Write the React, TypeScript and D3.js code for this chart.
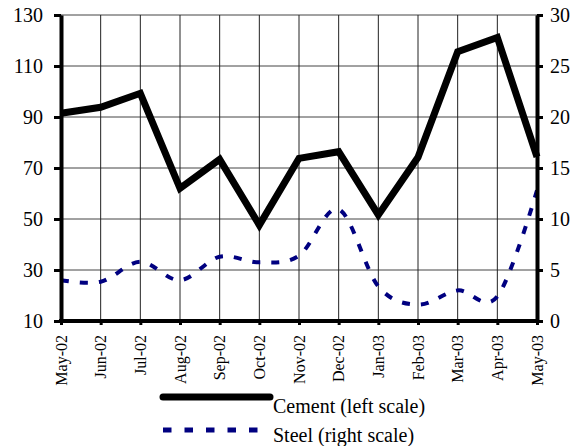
import { useRef, useEffect } from "react";
import * as d3 from "d3";

const months = [
  "May-02", "Jun-02", "Jul-02", "Aug-02", "Sep-02", "Oct-02", "Nov-02",
  "Dec-02", "Jan-03", "Feb-03", "Mar-03", "Apr-03", "May-03",
];
const cement = [91.5, 93.8, 99.3, 62, 73.4, 47.6, 73.8, 76.4, 51.6, 74.2, 115.6, 121.2, 74.4];
const steel = [4.0, 3.85, 5.8, 4.0, 6.3, 5.75, 6.4, 10.95, 3.4, 1.6, 3.0, 2.4, 12.8];
const leftTicks = [10, 30, 50, 70, 90, 110, 130];
const rightTicks = [0, 5, 10, 15, 20, 25, 30];
const legendItems = ["Cement (left scale)", "Steel (right scale)"];

const FONT = "'Liberation Serif', 'Times New Roman', serif";

export default function App() {
  const svgRef = useRef<SVGSVGElement>(null);

  useEffect(() => {
    const svg = d3.select(svgRef.current);
    svg.selectAll("*").remove();

    const left = 61, right = 537, top = 15, bottom = 321;

    const x = d3.scalePoint<string>().domain(months).range([left, right]);
    const yL = d3.scaleLinear().domain([10, 130]).range([bottom, top]);
    const yR = d3.scaleLinear().domain([0, 30]).range([bottom, top]);

    // grid
    const grid = svg.append("g");
    grid.selectAll("line.h")
      .data(leftTicks)
      .join("line")
      .attr("x1", left).attr("x2", right)
      .attr("y1", (d) => yL(d)).attr("y2", (d) => yL(d))
      .attr("stroke", "#444").attr("stroke-width", 1);
    grid.selectAll("line.v")
      .data(months)
      .join("line")
      .attr("x1", (d) => x(d)!).attr("x2", (d) => x(d)!)
      .attr("y1", top).attr("y2", bottom)
      .attr("stroke", "#222").attr("stroke-width", 1);

    // steel (smoothed dashed)
    const steelLine = d3.line<number>()
      .x((_, i) => x(months[i])!)
      .y((d) => yR(d))
      .curve(d3.curveCardinal.tension(0));
    svg.append("path")
      .datum(steel)
      .attr("d", steelLine)
      .attr("fill", "none")
      .attr("stroke", "#000080")
      .attr("stroke-width", 4)
      .attr("stroke-dasharray", "8,11");

    // cement
    const cementLine = d3.line<number>()
      .x((_, i) => x(months[i])!)
      .y((d) => yL(d));
    svg.append("path")
      .datum(cement)
      .attr("d", cementLine)
      .attr("fill", "none")
      .attr("stroke", "#000")
      .attr("stroke-width", 7)
      .attr("stroke-linejoin", "miter");

    // axes
    const styleAxis = (g: d3.Selection<SVGGElement, unknown, null, undefined>) => {
      g.select(".domain").attr("stroke", "#000").attr("stroke-width", 4);
      g.selectAll(".tick line").attr("stroke", "#000").attr("stroke-width", 3);
      g.selectAll("text").attr("font-family", FONT).attr("fill", "#000");
    };

    const gLeft = svg.append("g")
      .attr("transform", `translate(${left},0)`)
      .call(d3.axisLeft(yL).tickValues(leftTicks).tickSize(7).tickSizeOuter(0).tickPadding(11).tickFormat(d3.format("d")));
    styleAxis(gLeft);
    gLeft.selectAll("text").attr("font-size", 20);

    const gRight = svg.append("g")
      .attr("transform", `translate(${right},0)`)
      .call(d3.axisRight(yR).tickValues(rightTicks).tickSize(6).tickSizeOuter(0).tickPadding(7).tickFormat(d3.format("d")));
    styleAxis(gRight);
    gRight.selectAll("text").attr("font-size", 20);

    const gBottom = svg.append("g")
      .attr("transform", `translate(0,${bottom})`)
      .call(d3.axisBottom(x).tickSize(4).tickSizeOuter(0));
    styleAxis(gBottom);
    gBottom.select(".domain").attr("d", `M${left - 2},0H${right + 2}`);
    gBottom.selectAll("text")
      .attr("font-size", 16)
      .attr("transform", "rotate(-90)")
      .attr("text-anchor", "end")
      .attr("x", -14)
      .attr("y", 0)
      .attr("dy", "0.33em");

    // legend
    const legend = svg.append("g");
    legend.append("line")
      .attr("x1", 163).attr("x2", 270)
      .attr("y1", 397).attr("y2", 397)
      .attr("stroke", "#000").attr("stroke-width", 7)
      .attr("stroke-linecap", "round");
    legend.append("line")
      .attr("x1", 163).attr("x2", 258)
      .attr("y1", 430).attr("y2", 430)
      .attr("stroke", "#000080").attr("stroke-width", 5)
      .attr("stroke-dasharray", "8.5,13");
    legend.selectAll("text")
      .data(legendItems)
      .join("text")
      .attr("x", 273)
      .attr("y", (_, i) => 413 + i * 29)
      .attr("font-family", FONT)
      .attr("font-size", 20)
      .attr("fill", "#000")
      .text((d) => d);
  }, []);

  return (
    <svg
      ref={svgRef}
      width={577}
      height={446}
      style={{ position: "absolute", left: 0, top: 0, background: "#fff" }}
    />
  );
}
